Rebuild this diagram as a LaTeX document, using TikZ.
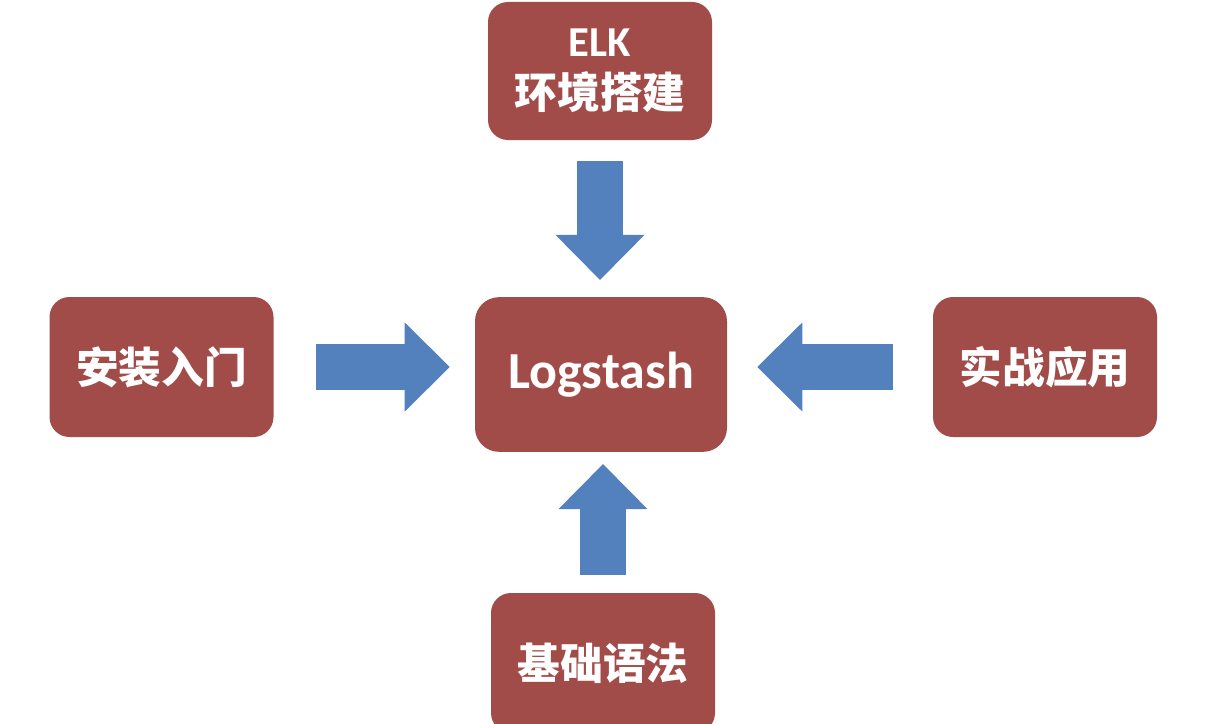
\documentclass[tikz,border=0pt]{standalone}
\usepackage{fontspec}
\setmainfont{Carlito}
\newfontfamily\cjk{Noto Sans CJK SC}
\usetikzlibrary{arrows.meta}
\definecolor{boxred}{HTML}{A24C4A}
\definecolor{arrowblue}{HTML}{5381BD}

\begin{document}
\begin{tikzpicture}
[x=0.75pt,y=-0.75pt,
box/.style={fill=boxred,text=white,rounded corners=15pt,
minimum width=168pt,minimum height=105pt,inner sep=0pt,
font=\fontsize{32}{39}\selectfont\bfseries,align=center},
bigarrow/.style={arrowblue,line width=34pt,
-{Triangle[length=33.75pt,width=66.75pt,line width=0pt]}}]
\path[use as bounding box,fill=white] (0,0) rectangle (1210,724);
\clip (0,0) rectangle (1210,724);

\node (elk) at (600,71) [box,minimum height=103.5pt] {ELK\\\cjk 环境搭建};
\node (core) at (601,374.5) [box,minimum width=189pt,minimum height=116pt,
rounded corners=18pt,font=\fontsize{39}{47}\selectfont\bfseries] {Logstash};
\node (setup) at (161.5,367) [box] {\cjk 安装入门};
\node (usage) at (1045,367) [box] {\cjk 实战应用};
\node (syntax) at (603,663) [box] {\cjk 基础语法};

\draw[bigarrow,shorten <=15.75pt,shorten >=12.75pt] (elk.south) -- (elk.south |- core.north);
\draw[bigarrow,shorten <=31.5pt,shorten >=18.75pt] (setup.east) -- (setup.east -| core.west);
\draw[bigarrow,shorten <=30pt,shorten >=22.5pt] (usage.west) -- (usage.west -| core.east);
\draw[bigarrow,shorten <=13.5pt,shorten >=9pt] (syntax.north) -- (syntax.north |- core.south);

\end{tikzpicture}
\end{document}
